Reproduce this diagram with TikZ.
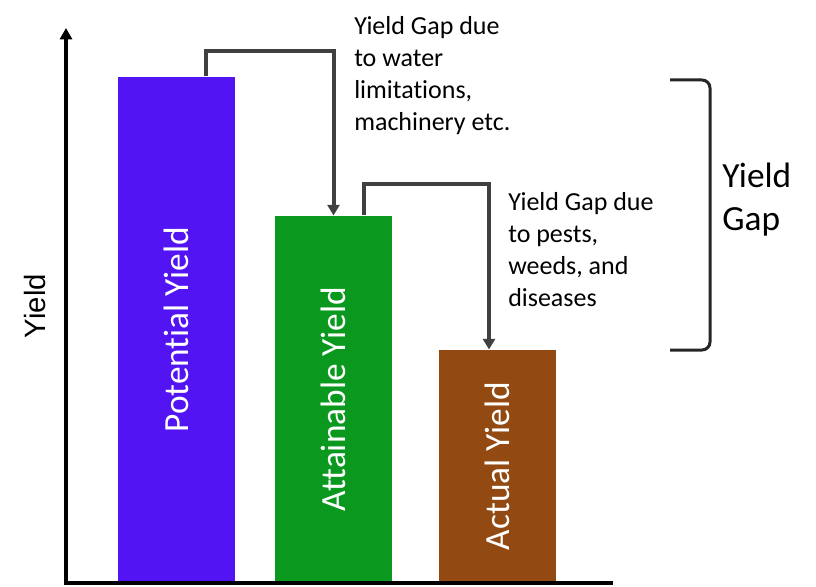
\documentclass[tikz,border=0pt]{standalone}
\usepackage{fontspec}
\setmainfont{Carlito}[Ligatures=NoCommon]
\newfontfamily\axisfont{Liberation Sans}
\usetikzlibrary{arrows.meta, calc}

\definecolor{potentialcol}{RGB}{83,20,244}
\definecolor{attainablecol}{RGB}{10,153,30}
\definecolor{actualcol}{RGB}{146,74,18}
\definecolor{gapgray}{RGB}{64,64,64}
\definecolor{bracketgray}{RGB}{38,38,38}

\begin{document}
\begin{tikzpicture}[x=0.75pt, y=0.75pt,
    bar/.style={anchor=south, minimum width=87.75pt, inner sep=0pt, text=white, font=\fontsize{26.5}{30}\selectfont},
    gap/.style={line width=3pt, draw=gapgray, -{Triangle[width=9pt,length=8pt]}},
    note/.style={anchor=north west, align=left, inner sep=0pt, font=\fontsize{19.5}{24}\selectfont}]

    \useasboundingbox (0,0) rectangle (816,586);

    % Bars
    \node[bar, fill=potentialcol, minimum height=379.5pt] (potential) at (176.5,3) {\rotatebox{90}{Potential Yield}};
    \node[bar, fill=attainablecol, minimum height=275.25pt] (attainable) at (333.5,3) {\rotatebox{90}{Attainable Yield}};
    \node[bar, fill=actualcol, minimum height=174.75pt] (actual) at (497.5,3) {\rotatebox{90}{Actual Yield}};

    % Axes
    \coordinate (origin) at (66,3);
    \draw[line width=3pt, -{Triangle[width=9pt,length=8.5pt]}] (origin) -- (66,558);
    \draw[line width=3pt] (64,3) -- (613,3);
    \node[rotate=90, font=\axisfont\fontsize{22}{26}\selectfont] (ylabel) at (35,280) {Yield};

    % Gap arrows
    \draw[gap] ($(potential.north)+(29.5,0)$) -- ++(0,25) -| (attainable.north);
    \draw[gap] ($(attainable.north)+(30.5,0)$) -- ++(0,31) -| ($(actual.north)+(-8.5,0)$);

    \node[note] (watergap) at (354,570) {Yield Gap due\\to water\\limitations,\\machinery etc.};
    \node[note] (pestgap) at (508,394) {Yield Gap due\\to pests,\\weeds, and\\diseases};

    % Bracket
    \draw[line width=2.25pt, bracketgray, rounded corners=6pt] (670,506) -- (710,506) -- (710,236) -- (670,236);
    \node[note, font=\fontsize{26.5}{32}\selectfont] (totalgap) at (722,423) {Yield\\Gap};
\end{tikzpicture}
\end{document}
